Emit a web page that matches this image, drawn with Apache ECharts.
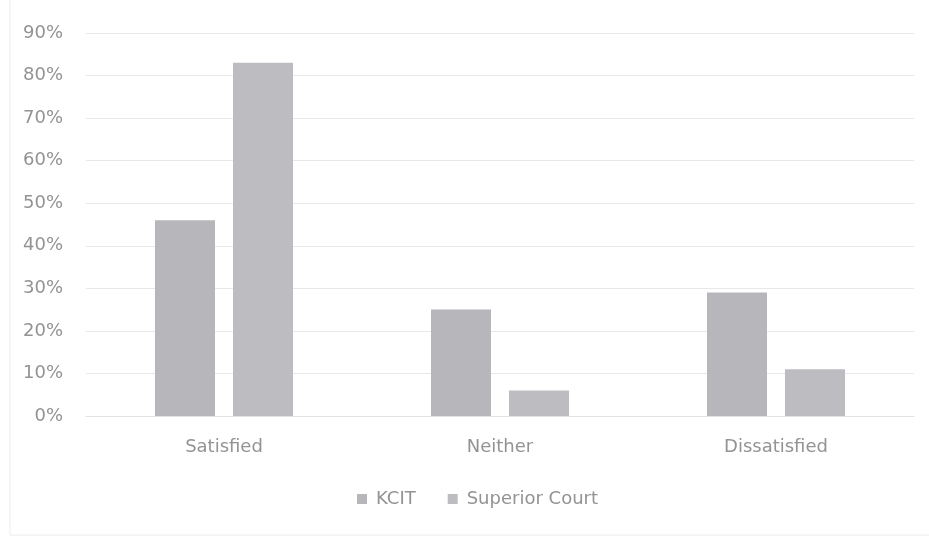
<!DOCTYPE html>
<html><head><meta charset="utf-8">
<script src="https://cdn.jsdelivr.net/npm/echarts@6/dist/echarts.min.js"></script>
<style>html,body{margin:0;padding:0;background:#fff;}#c{width:929px;height:540px;}</style>
</head><body><div id="c"></div>
<script>
const categories = ['Satisfied', 'Neither', 'Dissatisfied'];
const kcit = [46, 25, 29];
const superiorCourt = [83, 6, 11];
const seriesNames = ['KCIT', 'Superior Court'];

const chart = echarts.init(document.getElementById('c'));
const font = '"DejaVu Sans", sans-serif';
chart.setOption({
  animation: false,
  backgroundColor: '#fff',
  graphic: [{type:'rect', shape:{x:10, y:-5, width:925, height:540}, style:{fill:'none', stroke:'#ececec', lineWidth:1}, silent:true}],
  grid: {left: 86, right: 15, top: 33, bottom: 124, containLabel: false},
  legend: {
    data: seriesNames, bottom: 27, left: 352, itemWidth: 10, itemHeight: 10, itemGap: 32,
    icon: 'rect',
    textStyle: {color: '#939393', fontSize: 18, fontFamily: font, padding: [0, 0, 0, 4]}
  },
  xAxis: {
    type: 'category', data: categories,
    axisLine: {show: true, lineStyle: {color: '#e2e2e2'}}, axisTick: {show: false},
    axisLabel: {color: '#939393', fontSize: 18, fontFamily: font, margin: 22}
  },
  yAxis: {
    type: 'value', min: 0, max: 90, interval: 10,
    axisLine: {show: false}, axisTick: {show: false},
    splitLine: {lineStyle: {color: '#e8e8e8'}},
    axisLabel: {formatter: '{value}%', color: '#939393', fontSize: 18, fontFamily: font, margin: 23}
  },
  series: [
    {name: seriesNames[0], type: 'bar', data: kcit, barWidth: 60, barGap: '30%', itemStyle: {color: '#b7b7bb'}},
    {name: seriesNames[1], type: 'bar', data: superiorCourt, barWidth: 60, itemStyle: {color: '#bdbdc1'}}
  ]
});
</script></body></html>
